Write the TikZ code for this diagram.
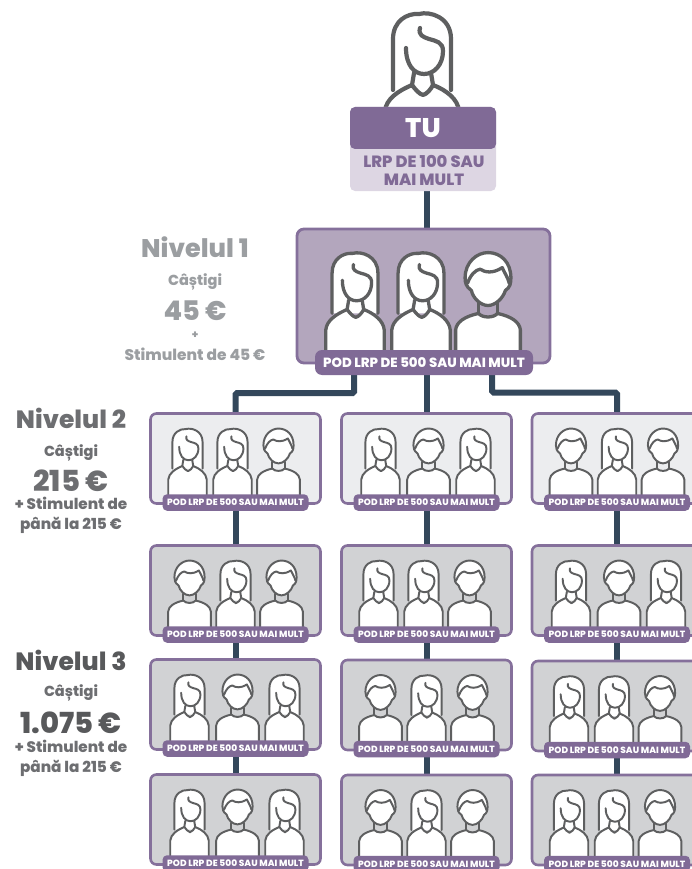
\documentclass[tikz,border=0pt]{standalone}
\usepackage{fontspec}
\setmainfont{Poppins}[BoldFont={Poppins ExtraBold}]
\usetikzlibrary{backgrounds}
\definecolor{purp}{HTML}{806A96}
\definecolor{purpedge}{HTML}{85709B}
\definecolor{lilac}{HTML}{B3A6BD}
\definecolor{pale}{HTML}{DDD6E3}
\definecolor{tileA}{HTML}{ECEDEF}
\definecolor{tileB}{HTML}{D1D2D4}
\definecolor{ink}{HTML}{5E5F60}
\definecolor{navy}{HTML}{33475B}
\definecolor{grayA}{HTML}{9B9EA1}
\definecolor{grayB}{HTML}{6D6E71}
\definecolor{grayC}{HTML}{58595B}
\tikzset{
  conn/.style={draw=navy,line width=6pt,rounded corners=1.5pt},
  figline/.style={draw=ink,line cap=round,line join=round},
  tile/.style={draw=purpedge,line width=2.6pt,rounded corners=6pt,minimum width=170pt,minimum height=90pt,inner sep=0pt},
  pill/.style={fill=purp,rounded corners=4.5pt,text=white,font=\bfseries\fontsize{9}{9}\selectfont,minimum width=146pt,minimum height=16.5pt,inner sep=0pt},
  side/.style={font=\bfseries,align=center,inner sep=0pt},
  pics/womanfig/.style={code={
    \draw[figline,fill=white] (-29,79) -- (-29,28) .. controls (-29,10) and (-15,2) .. (-3,3) .. controls (8,0) and (29,6) .. (29,28) -- (29,79);
    \draw[figline,fill=white] (-37,132) -- (-37,100) .. controls (-36,88) and (-24,80) .. (-10,74) .. controls (-7,78) and (-3,83) .. (1,84) .. controls (5,83) and (9,78) .. (11,74) .. controls (24,79) and (36,88) .. (37,100) -- (37,132);
    \draw[figline] (-8,62) -- (-10,74) (9,62) -- (11,74);
    \draw[figline] (-2,17) .. controls (-4,24) and (1,26) .. (7,28) .. controls (14,30) and (21,31) .. (21,40) .. controls (21,54) and (12,63) .. (2,63) .. controls (-8,63) and (-16,54) .. (-16,37);
  }},
  pics/manfig/.style={code={
    \draw[figline,fill=white] (-41,132) -- (-41,100) .. controls (-40,90) and (-30,83) .. (-12,79) .. controls (-7,85) and (7,85) .. (12,79) .. controls (30,83) and (40,90) .. (41,100) -- (41,132);
    \draw[figline] (-12,66) -- (-12,79) (12,66) -- (12,79);
    \draw[figline,fill=white] (-21,50) .. controls (-28,45) and (-29,40) .. (-29,34) .. controls (-29,14) and (-14,2) .. (0,2) .. controls (16,2) and (29,14) .. (29,34) .. controls (29,41) and (28,46) .. (22,50) .. controls (19,60) and (9,69) .. (0,69) .. controls (-9,69) and (-19,60) .. (-21,50) -- cycle;
    \draw[figline] (-26,41) .. controls (-22,30) and (-16,24) .. (-10,23) .. controls (-4,27) and (6,29) .. (18,21) .. controls (21,28) and (25,33) .. (27,41);
  }},
  small/.style={scale=.52,line width=1.95pt}
}
\newcommand{\patFFM}[2]{%
  \pic[small] at (#1-48,#2) {womanfig};
  \pic[small] at (#1-3,#2) {womanfig};
  \pic[small] at (#1+43,#2) {manfig};}
\newcommand{\patFMF}[2]{%
  \pic[small] at (#1-46,#2) {womanfig};
  \pic[small] at (#1+2,#2) {manfig};
  \pic[small] at (#1+49,#2) {womanfig};}
\newcommand{\patMFM}[2]{%
  \pic[small] at (#1-46,#2) {manfig};
  \pic[small] at (#1,#2) {womanfig};
  \pic[small] at (#1+46,#2) {manfig};}
% name, centre x, top y, fill, pattern
\newcommand{\tilebox}[5]{%
  \node[tile,fill=#4] (b#1) at (#2,#3+45) {};
  \csname pat#5\endcsname{#2}{#3+14}
  \node[pill] (p#1) at (#2,#3+89) {POD LRP DE 500 SAU MAI MULT};}
\begin{document}
\begin{tikzpicture}[x=1pt,y=-1pt]
\path[clip,use as bounding box] (0,0) rectangle (692,869);
% you
\pic[line width=4.2pt] at (422,11) {womanfig};
\node[fill=pale,rounded corners=5pt,minimum width=146pt,minimum height=84pt,inner sep=0pt] (tubox) at (423,149) {};
\fill[purp,rounded corners=5pt] (350,149) -- (350,107) -- (496,107) -- (496,149) -- cycle;
\node[text=white,font=\bfseries\fontsize{27}{29}\selectfont,inner sep=0pt] (tu) at (423,128.5) {TU};
\node[text=purp,font=\bfseries\fontsize{16.3}{18}\selectfont,align=center,inner sep=0pt] (tulrp) at (424,170) {LRP DE 100 SAU\\MAI MULT};
% level 1
\node[fill=lilac,draw=purpedge,line width=2.8pt,rounded corners=7pt,minimum width=253pt,minimum height=134pt,inner sep=0pt] (one) at (423.5,296) {};
\pic[line width=3.3pt,scale=.79] at (355,251) {womanfig};
\pic[line width=3.3pt,scale=.79] at (421,251) {womanfig};
\pic[line width=3.3pt,scale=.79] at (488,251) {manfig};
\node[pill,minimum width=218pt,minimum height=25pt,rounded corners=7pt,font=\bfseries\fontsize{13.3}{14}\selectfont] (onep) at (424,362.5) {POD LRP DE 500 SAU MAI MULT};
% tiles
\tilebox{11}{235.5}{413.5}{tileA}{FFM}
\tilebox{12}{426.5}{413.5}{tileA}{FMF}
\tilebox{13}{617}{413.5}{tileA}{MFM}
\tilebox{21}{235.5}{545.5}{tileB}{MFM}
\tilebox{22}{426.5}{545.5}{tileB}{FFM}
\tilebox{23}{617}{545.5}{tileB}{FMF}
\tilebox{31}{235.5}{659.5}{tileB}{FMF}
\tilebox{32}{426.5}{660}{tileB}{MFM}
\tilebox{33}{617}{661}{tileB}{FFM}
\tilebox{41}{235.5}{774.5}{tileB}{FMF}
\tilebox{42}{426.5}{775}{tileB}{MFM}
\tilebox{43}{617}{775}{tileB}{FFM}
% side texts
\node[side,text=grayA,font=\bfseries\fontsize{25.5}{27}\selectfont] (n1) at (195,247) {Nivelul 1};
\node[side,text=grayA,font=\bfseries\fontsize{14.5}{16}\selectfont] (c1) at (195,282) {Câștigi};
\node[side,text=grayA,font=\bfseries\fontsize{27}{29}\selectfont] (v1) at (195,311) {45 €};
\node[side,text=grayA,font=\bfseries\fontsize{11}{12}\selectfont] (pl1) at (195,335) {+};
\node[side,text=grayA,font=\bfseries\fontsize{15.4}{16}\selectfont] (s1) at (195,354) {Stimulent de 45 €};
\node[side,text=grayB,font=\bfseries\fontsize{25}{27}\selectfont] (n2) at (71,418) {Nivelul 2};
\node[side,text=grayB,font=\bfseries\fontsize{14.5}{16}\selectfont] (c2) at (71,453) {Câștigi};
\node[side,text=grayB,font=\bfseries\fontsize{29}{31}\selectfont] (v2) at (71,481) {215 €};
\node[side,text=grayB,font=\bfseries\fontsize{15.2}{20}\selectfont] (s2) at (71,515.5) {+ Stimulent de\\până la 215 €};
\node[side,text=grayC,font=\bfseries\fontsize{25}{27}\selectfont] (n3) at (71,660) {Nivelul 3};
\node[side,text=grayB,font=\bfseries\fontsize{14.5}{16}\selectfont] (c3) at (71,693) {Câștigi};
\node[side,text=grayC,font=\bfseries\fontsize{29}{31}\selectfont] (v3) at (71,723) {1.075 €};
\node[side,text=grayB,font=\bfseries\fontsize{15.2}{20}\selectfont] (s3) at (71,758) {+ Stimulent de\\până la 215 €};
% connectors
\begin{scope}[on background layer]
\draw[conn] (tubox.south -| b12.north) -- (one.north -| b12.north);
\draw[conn] ([xshift=-70pt]onep.south) |- (235.5,393) -- (b11.north);
\draw[conn] (onep.south -| b12.north) -- (b12.north);
\draw[conn] ([xshift=68pt]onep.south) |- (617,392.5) -- (b13.north);
\draw[conn] (p11) -- (b21);
\draw[conn] (p12) -- (b22);
\draw[conn] (p13) -- (b23);
\draw[conn] (p21) -- (b31);
\draw[conn] (p22) -- (b32);
\draw[conn] (p23) -- (b33);
\draw[conn] (p31) -- (b41);
\draw[conn] (p32) -- (b42);
\draw[conn] (p33) -- (b43);
\end{scope}
\end{tikzpicture}
\end{document}
